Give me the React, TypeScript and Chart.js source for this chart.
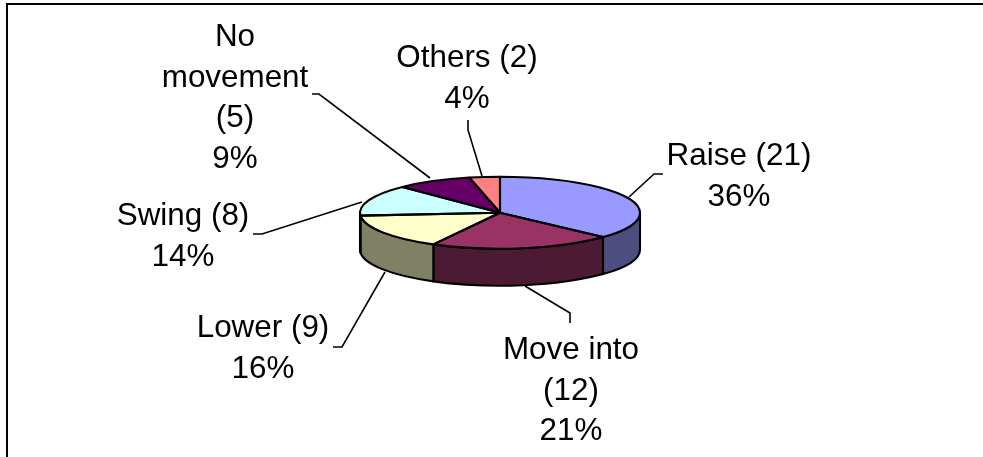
import React, { useEffect, useRef } from "react";
import { Chart, registerables } from "chart.js";

Chart.register(...registerables);

const categories = ["Raise", "Move into", "Lower", "Swing", "No movement", "Others"];
const counts = [21, 12, 9, 8, 5, 2];
const percents = [36, 21, 16, 14, 9, 4];
const faceColors = ["#9999FF", "#993366", "#FFFFCC", "#CCFFFF", "#660066", "#FF8080"];
const wallColors = ["#4D4D80", "#4D1A33", "#808066", "#668080", "#330033", "#804040"];

const WIDTH = 983;
const HEIGHT = 457;
const CENTER_X = 500;
const CENTER_Y = 212.7;
const RADIUS = 140;
const TILT = 36 / 140;
const DEPTH = 37;
const FONT = '31.4px "Liberation Sans", Arial, sans-serif';
const LINE_HEIGHT = 40.5;
const OUTLINE = 2.1;

// Text anchors and elbowed leader lines for each slice, in category order.
const callouts = [
  { x: 739, y: 165, wrap: 200, leader: [[663, 174], [654, 174], [629, 197]] },
  { x: 571, y: 359, wrap: 170, leader: [[570, 323], [570, 313], [525, 286]] },
  { x: 263, y: 337, wrap: 200, leader: [[333, 347], [342, 347], [385, 272]] },
  { x: 183, y: 225, wrap: 200, leader: [[253, 234], [262, 234], [362, 202]] },
  { x: 235, y: 46, wrap: 150, leader: [[312, 94], [319, 94], [430, 178]] },
  { x: 467, y: 67, wrap: 200, leader: [[468, 120], [468, 130], [482, 176]] },
];

function wrapText(ctx: CanvasRenderingContext2D, text: string, width: number) {
  const lines: string[] = [];
  let current = "";
  for (const word of text.split(" ")) {
    const next = current ? `${current} ${word}` : word;
    if (current && ctx.measureText(next).width > width) {
      lines.push(current);
      current = word;
    } else {
      current = next;
    }
  }
  lines.push(current);
  return lines;
}

// Squashes the library's circular arcs into a tilted disc and adds its wall.
const tiltedPie = {
  id: "tiltedPie",
  beforeDatasetDraw(chart: any) {
    const { ctx } = chart;
    const arcs = chart.getDatasetMeta(0).data;
    ctx.save();
    ctx.lineWidth = OUTLINE;
    ctx.strokeStyle = "#000";
    ctx.lineJoin = "round";
    arcs.forEach((arc: any, i: number) => {
      const ry = arc.outerRadius * TILT;
      // Only the part of a slice facing the viewer shows a wall.
      const ranges: [number, number][] = [
        [arc.startAngle, arc.endAngle],
        [arc.startAngle + 2 * Math.PI, arc.endAngle + 2 * Math.PI],
      ];
      for (const [s, e] of ranges) {
        const from = Math.max(s, 0);
        const to = Math.min(e, Math.PI);
        if (to <= from) continue;
        ctx.beginPath();
        ctx.ellipse(arc.x, arc.y, arc.outerRadius, ry, 0, from, to);
        ctx.ellipse(arc.x, arc.y + DEPTH, arc.outerRadius, ry, 0, to, from, true);
        ctx.closePath();
        ctx.fillStyle = wallColors[i];
        ctx.fill();
        ctx.stroke();
      }
    });
    ctx.restore();
    const { x, y } = arcs[0];
    ctx.save();
    ctx.translate(x, y);
    ctx.scale(1, TILT);
    ctx.translate(-x, -y);
  },
  afterDatasetDraw(chart: any) {
    const { ctx } = chart;
    ctx.restore();
    ctx.save();
    ctx.lineWidth = OUTLINE;
    ctx.strokeStyle = "#000";
    ctx.lineJoin = "round";
    chart.getDatasetMeta(0).data.forEach((arc: any) => {
      ctx.beginPath();
      ctx.moveTo(arc.x, arc.y);
      ctx.ellipse(arc.x, arc.y, arc.outerRadius, arc.outerRadius * TILT, 0, arc.startAngle, arc.endAngle);
      ctx.closePath();
      ctx.stroke();
    });
    ctx.restore();
  },
};

// Partial frame along the top and left, plus the slice call-outs.
const annotations = {
  id: "annotations",
  beforeDraw(chart: any) {
    const { ctx } = chart;
    ctx.save();
    ctx.strokeStyle = "#000";
    ctx.lineWidth = 2;
    ctx.beginPath();
    ctx.moveTo(7, HEIGHT);
    ctx.lineTo(7, 4);
    ctx.lineTo(WIDTH, 4);
    ctx.stroke();
    ctx.restore();
  },
  afterDraw(chart: any) {
    const { ctx } = chart;
    ctx.save();
    ctx.font = FONT;
    ctx.fillStyle = "#000";
    ctx.textAlign = "center";
    ctx.textBaseline = "alphabetic";
    ctx.strokeStyle = "#000";
    ctx.lineWidth = 1.6;
    callouts.forEach((c, i) => {
      const lines = [...wrapText(ctx, `${categories[i]} (${counts[i]})`, c.wrap), `${percents[i]}%`];
      lines.forEach((line, n) => ctx.fillText(line, c.x, c.y + n * LINE_HEIGHT));
      ctx.beginPath();
      c.leader.forEach(([px, py], n) => (n ? ctx.lineTo(px, py) : ctx.moveTo(px, py)));
      ctx.stroke();
    });
    ctx.restore();
  },
};

export default function App() {
  const canvasRef = useRef<HTMLCanvasElement>(null);

  useEffect(() => {
    const chart = new Chart(canvasRef.current!, {
      type: "pie",
      data: {
        labels: categories,
        datasets: [
          {
            data: counts,
            backgroundColor: faceColors,
            borderWidth: 0,
            clip: false,
          } as any,
        ],
      },
      options: {
        responsive: false,
        animation: false,
        radius: RADIUS,
        events: [],
        layout: {
          padding: {
            left: 2 * CENTER_X - WIDTH,
            bottom: HEIGHT - 2 * CENTER_Y,
          },
        },
        plugins: {
          legend: { display: false },
          tooltip: { enabled: false },
        },
      } as any,
      plugins: [tiltedPie, annotations],
    });
    return () => chart.destroy();
  }, []);

  return (
    <div style={{ position: "absolute", left: 0, top: 0, width: WIDTH, height: HEIGHT }}>
      <canvas ref={canvasRef} width={WIDTH} height={HEIGHT} style={{ display: "block" }} />
    </div>
  );
}
